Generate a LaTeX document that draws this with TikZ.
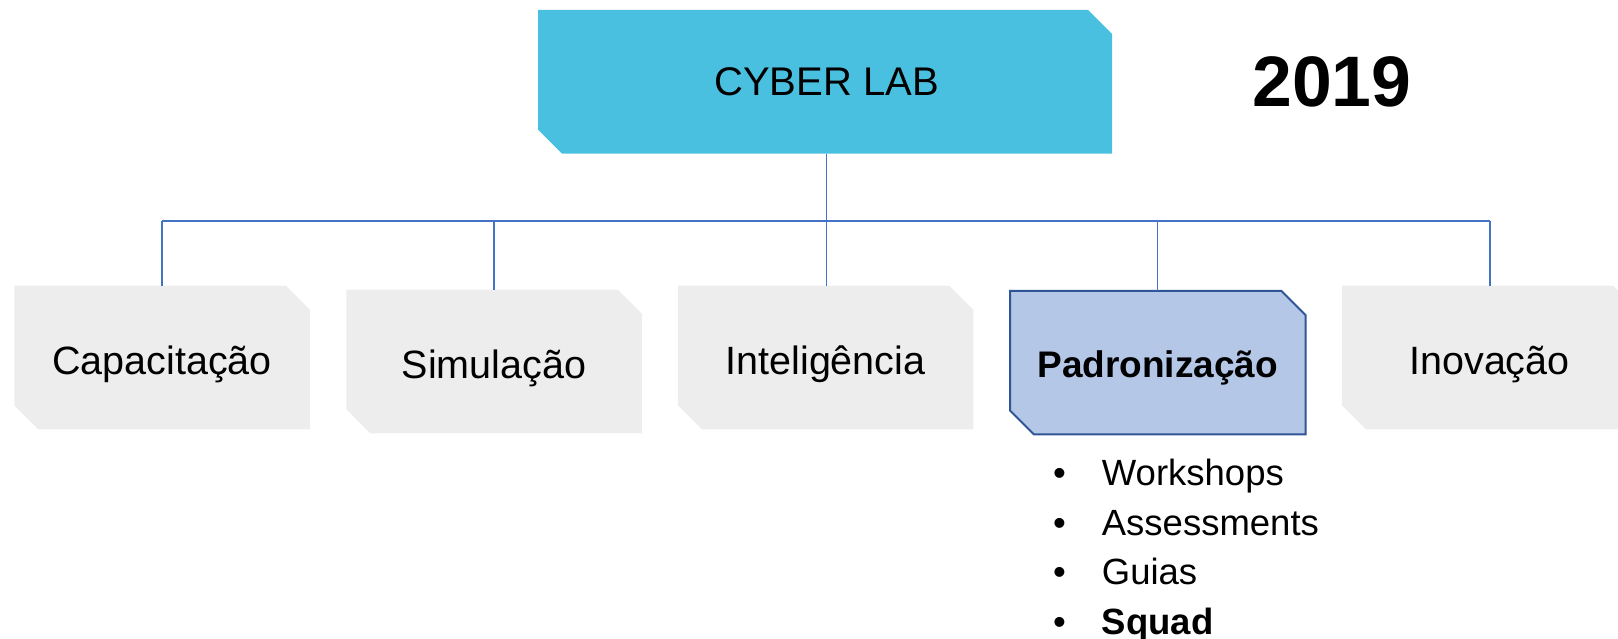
\documentclass[tikz,border=0pt]{standalone}
\usepackage{fontspec}
\setmainfont{Liberation Sans}
\usetikzlibrary{calc}
\definecolor{topfill}{HTML}{4AC0E0}
\definecolor{grayfill}{HTML}{EDEDED}
\definecolor{padfill}{HTML}{B4C7E7}
\definecolor{padline}{HTML}{2F5597}
\definecolor{connc}{HTML}{4472C4}
\newcommand{\chambox}[2]{\path[#2] (#1.north west) -- ([xshift=-24pt]#1.north east) -- ([yshift=-24pt]#1.north east) -- (#1.south east) -- ([xshift=24pt]#1.south west) -- ([yshift=24pt]#1.south west) -- cycle;}
\begin{document}
\begin{tikzpicture}[x=1pt,y=-1pt,
  boxnode/.style={inner sep=0pt, outer sep=0pt, minimum width=295.5pt, minimum height=143.5pt},
  lab/.style={font=\fontsize{39.5}{47}\selectfont, inner sep=0pt, anchor=base},
  boldlab/.style={font=\fontsize{37}{44}\selectfont\bfseries, inner sep=0pt, anchor=base},
  item/.style={font=\fontsize{36.5}{43}\selectfont, inner sep=0pt, anchor=base west},
  conn/.style={draw=connc, line width=1.3pt},
  grayshape/.style={fill=grayfill},
  padshape/.style={fill=padfill, draw=padline, line width=2pt, line join=miter}]
\useasboundingbox (0,0) rectangle (1618,639);
\clip (0,0) rectangle (1618,639);
% boxes
\node[boxnode, minimum width=574pt, minimum height=143.7pt] (top) at (825,81.85) {};
\node[boxnode] (cap) at (162,357.5) {};
\node[boxnode] (sim) at (494,361.5) {};
\node[boxnode] (int) at (825.5,357.5) {};
\node[boxnode] (pad) at (1157.75,362.7) {};
\node[boxnode] (ino) at (1489.5,357.5) {};
\chambox{top}{fill=topfill}
\chambox{cap}{grayshape}
\chambox{sim}{grayshape}
\chambox{int}{grayshape}
\chambox{pad}{padshape}
\chambox{ino}{grayshape}
% connectors
\coordinate (busL) at (162,221);
\coordinate (busR) at (1490,221);
\coordinate (busC) at (826.5,221);
\coordinate (topC) at (826.5,153.7);
\draw[conn] (topC) -- (busC);
\draw[conn] (busL) -- (busR);
\draw[conn] (busL) -- (busL |- cap.north);
\draw[conn] (sim.north |- busL) -- (sim.north);
\draw[conn] (busC) -- (busC |- int.north);
\draw[conn] (pad.north |- busL) -- (pad.north);
\draw[conn] (busR) -- (busR |- ino.north);
% texts
\node[lab, font=\fontsize{40}{48}\selectfont] (toptxt) at (826.5,96) {CYBER LAB};
\node[inner sep=0pt, anchor=base, font=\fontsize{71.5}{80}\selectfont\bfseries] (year) at (1332,106.5) {2019};
\node[lab] (captxt) at ([yshift=-89pt]cap.north) {Capacitação};
\node[lab] (simtxt) at ([yshift=-89pt]sim.north) {Simulação};
\node[lab] (inttxt) at ([yshift=-89pt]int.north) {Inteligência};
\node[boldlab] (padtxt) at ([yshift=-87pt]pad.north) {Padronização};
\node[lab] (inotxt) at ([yshift=-89pt]ino.north) {Inovação};
% bullet list
\node[item] (i1) at (1053,485) {\makebox[48.7pt][l]{\textbullet}Workshops};
\node[item] (i2) at (1053,535) {\makebox[48.7pt][l]{\textbullet}Assessments};
\node[item] (i3) at (1053,584.5) {\makebox[48.7pt][l]{\textbullet}Guias};
\node[item] (i4) at (1053,634) {\makebox[48.7pt][l]{\textbullet}\textbf{Squad}};
\end{tikzpicture}
\end{document}
